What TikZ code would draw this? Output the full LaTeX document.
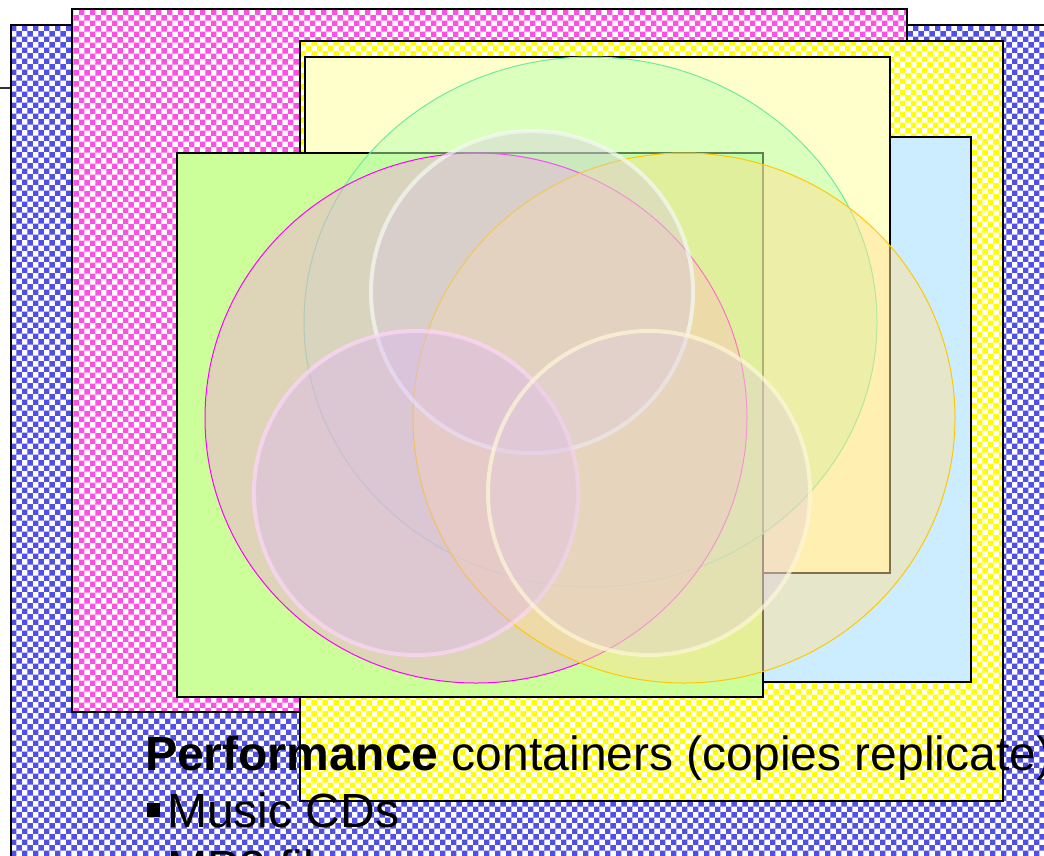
\documentclass[tikz,border=0pt]{standalone}
\usepackage{fontspec}
\setmainfont{Liberation Sans}
\usetikzlibrary{patterns}
\definecolor{chkblue}{RGB}{80,80,232}
\definecolor{chkmag}{RGB}{255,80,230}
\definecolor{chkyel}{RGB}{255,255,0}
\definecolor{paleyel}{RGB}{255,255,204}
\definecolor{paleblue}{RGB}{204,236,255}
\definecolor{palegreen}{RGB}{204,255,153}
\definecolor{cgreenfill}{RGB}{185,255,176}
\definecolor{cgreenline}{RGB}{110,235,160}
\definecolor{cmagfill}{RGB}{240,170,215}
\definecolor{cmagline}{RGB}{255,0,255}
\definecolor{corfill}{RGB}{255,225,150}
\definecolor{corline}{RGB}{255,200,0}
\definecolor{ringA}{RGB}{245,250,245}
\definecolor{ringB}{RGB}{255,215,250}
\definecolor{ringC}{RGB}{255,248,215}
\definecolor{fillA}{RGB}{215,200,225}
\definecolor{fillB}{RGB}{220,180,245}
\definecolor{fillC}{RGB}{225,205,220}
\tikzset{
  box/.style={draw=black, line width=1.6pt},
  bigc/.style={line width=1pt, fill opacity=0.5},
  ring/.style={line width=4pt, draw opacity=0.7, fill opacity=0.4},
  txt/.style={anchor=base west, inner sep=0pt, font=\fontsize{48}{57}\selectfont}
}
\begin{document}
\begin{tikzpicture}[x=1pt,y=-1pt]
\useasboundingbox (0,0) rectangle (1044,855);
\begin{scope}
\clip (0,0) rectangle (1044,855);
% stray line at left
\draw[line width=1.5pt, black!80] (0,88) -- (11,88);
% blue checkered
\fill[white] (11,25) rectangle (1060,870);
\fill[pattern=checkerboard, pattern color=chkblue] (11,25) rectangle (1060,870);
\draw[box] (11,25) rectangle (1060,870);
% magenta checkered
\fill[white] (72,9) rectangle (907,712);
\fill[pattern=checkerboard, pattern color=chkmag] (72,9) rectangle (907,712);
\draw[box] (72,9) rectangle (907,712);
% yellow checkered
\fill[white] (300,41) rectangle (1003,801);
\fill[pattern=checkerboard, pattern color=chkyel] (300,41) rectangle (1003,801);
\draw[box] (300,41) rectangle (1003,801);
% light blue
\filldraw[box, fill=paleblue] (700,137) rectangle (971,682);
% light yellow
\filldraw[box, fill=paleyel] (305,57) rectangle (890,573);
% green
\filldraw[box, fill=palegreen] (177,153) rectangle (763,697);
% big circles
\filldraw[bigc, draw=cgreenline, fill=cgreenfill] (590.5,322) ellipse [x radius=286.5pt, y radius=265pt];
\filldraw[bigc, draw=cmagline, fill=cmagfill] (476,418) ellipse [x radius=271pt, y radius=265pt];
\filldraw[bigc, draw=corline, fill=corfill] (684,418) ellipse [x radius=271pt, y radius=265pt];
% small ring circles
\filldraw[ring, draw=ringA, fill=fillA] (532,292) ellipse [x radius=161pt, y radius=161pt];
\filldraw[ring, draw=ringB, fill=fillB] (416,493) ellipse [x radius=162pt, y radius=162pt];
\filldraw[ring, draw=ringC, fill=fillC] (649,493) ellipse [x radius=161pt, y radius=162pt];
% text
\node[txt] (t1) at (145,770) {\textbf{Performance} containers (copies replicate)};
\fill (147,803) rectangle (160,817);
\node[txt] (t2) at (167,827) {Music CDs};
\fill (147,860) rectangle (160,874);
\node[txt] (t3) at (167,884) {MP3 files};
\end{scope}
\end{tikzpicture}
\end{document}
